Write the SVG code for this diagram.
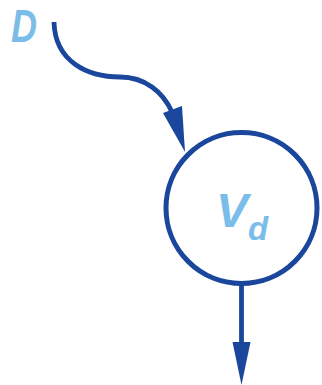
<svg xmlns="http://www.w3.org/2000/svg" width="322" height="385" viewBox="0 0 322 385">
<style>
.edge{fill:none;stroke:#1a469c;stroke-width:4.8}
.head{fill:#1a469c}
.lbl{font-family:"Liberation Sans",Arial,sans-serif;font-weight:bold;font-style:italic;fill:#7bbde9}
</style>
<rect width="322" height="385" fill="#fff"/>
<g id="connectors">
<path class="edge" d="M54,22 C55,62 88,77 120,77 C145,77 163,92 172,112"/>
<polygon class="head" points="163,113 182,106 185,152"/>
<line class="edge" x1="241.5" y1="284" x2="241.5" y2="344"/>
<polygon class="head" points="232.5,342 250.5,342 241.5,385"/>
</g>
<g id="node-D">
<text class="lbl" x="11" y="42" font-size="46" textLength="26" lengthAdjust="spacingAndGlyphs">D</text>
</g>
<g id="node-Vd">
<circle cx="241.5" cy="208" r="75.5" fill="#fff" stroke="#1a469c" stroke-width="5"/>
<text class="lbl" x="216" y="227" font-size="48">V<tspan font-size="33" dy="13">d</tspan></text>
</g>
</svg>
